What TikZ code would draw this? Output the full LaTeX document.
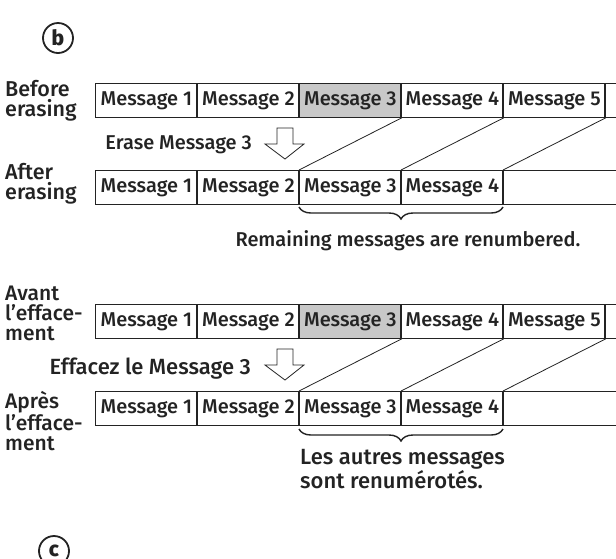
\documentclass[tikz,border=0pt]{standalone}
\usepackage{fontspec}
\setmainfont{Fira Sans}[UprightFont={* Medium}]
\usetikzlibrary{decorations.pathreplacing}
\definecolor{shade}{RGB}{200,200,200}
\definecolor{ink}{RGB}{35,35,35}
\begin{document}
\begin{tikzpicture}[x=1pt,y=-1pt,
  cell/.style={draw=ink,line width=0.8pt,minimum width=102pt,minimum height=34pt,inner sep=0pt,anchor=north west,font=\fontsize{20}{22}\selectfont,text=ink},
  grey/.style={cell,fill=shade},
  lbl/.style={anchor=west,align=left,font=\fontsize{21.5}{20}\selectfont,text=ink,inner sep=0pt},
  lblfr/.style={lbl,font=\fontsize{21}{20}\selectfont},
  txt/.style={font=\fontsize{20}{21}\selectfont,text=ink,inner sep=0pt},
  txtfr/.style={font=\fontsize{22}{21}\selectfont,text=ink,inner sep=0pt},
  hollow/.style={draw=ink,line width=0.8pt,fill=white},
  slant/.style={draw=ink,line width=0.8pt},
  brc/.style={draw=ink,line width=1.4pt,decorate,decoration={brace,mirror,amplitude=12pt}},
  circ/.style={circle,draw=ink,line width=1.8pt,minimum size=30pt,inner sep=0pt,font=\fontsize{21}{21}\selectfont\bfseries,text=ink}
]
\useasboundingbox (0,0) rectangle (616,558);
\fill[white] (0,0) rectangle (616,558);

\node[circ] (cb) at (58,38) {b};
\node[circ] (cc) at (54,551) {c};

% ---- top section ----
\node[lbl] (l1) at (5,101) {Before\\erasing};
\node[lbl] (l2) at (5,184) {After\\erasing};

\draw[ink,line width=0.8pt] (95,83) -- (616,83) (95,117) -- (616,117);
\draw[ink,line width=0.8pt] (95,170) -- (616,170) (95,204) -- (616,204);

\node[cell] (a1) at (95,83) {Message 1};
\node[cell] (a2) at (197,83) {Message 2};
\node[grey] (a3) at (299,83) {Message 3};
\node[cell] (a4) at (401,83) {Message 4};
\node[cell] (a5) at (503,83) {Message 5};

\node[cell] (b1) at (95,170) {Message 1};
\node[cell] (b2) at (197,170) {Message 2};
\node[cell] (b3) at (299,170) {Message 3};
\node[cell] (b4) at (401,170) {Message 4};
\coordinate (b5) at (503,170);

\draw[slant] (a3.south east) -- (b3.north west);
\draw[slant] (a4.south east) -- (b4.north west);
\draw[slant] (a5.south east) -- (b5);

\foreach \x in {197,299,401,503}{\draw[ink,line width=1.3pt] (\x,83) -- (\x,117) (\x,170) -- (\x,204);}
\draw[ink,line width=1.3pt] (605,83) -- (605,117);

\node[txt,anchor=east] (e1) at (252,145) {Erase Message 3};
\draw[hollow] (277,128) -- (293,128) -- (293,144) -- (304,144) -- (285,159) -- (265,144) -- (277,144) -- cycle;

\coordinate (br1s) at (299,207);
\coordinate (br1e) at (503,207);
\draw[brc] (br1s) -- (br1e);
\node[txt] (r1) at (408,241) {Remaining messages are renumbered.};

% ---- bottom section ----
\node[lblfr] (l3) at (5,313) {Avant\\l’efface-\\ment};
\node[lblfr] (l4) at (5,421) {Après\\l’efface-\\ment};

\draw[ink,line width=0.8pt] (95,304) -- (616,304) (95,338) -- (616,338);
\draw[ink,line width=0.8pt] (95,391) -- (616,391) (95,425) -- (616,425);

\node[cell] (c1) at (95,304) {Message 1};
\node[cell] (c2) at (197,304) {Message 2};
\node[grey] (c3) at (299,304) {Message 3};
\node[cell] (c4) at (401,304) {Message 4};
\node[cell] (c5) at (503,304) {Message 5};

\node[cell] (d1) at (95,391) {Message 1};
\node[cell] (d2) at (197,391) {Message 2};
\node[cell] (d3) at (299,391) {Message 3};
\node[cell] (d4) at (401,391) {Message 4};
\coordinate (d5) at (503,391);

\draw[slant] (c3.south east) -- (d3.north west);
\draw[slant] (c4.south east) -- (d4.north west);
\draw[slant] (c5.south east) -- (d5);

\foreach \x in {197,299,401,503}{\draw[ink,line width=1.3pt] (\x,304) -- (\x,338) (\x,391) -- (\x,425);}
\draw[ink,line width=1.3pt] (605,304) -- (605,338);

\node[txtfr,anchor=east] (e2) at (251,369) {Effacez le Message 3};
\draw[hollow] (277,349) -- (293,349) -- (293,365) -- (304,365) -- (285,380) -- (265,365) -- (277,365) -- cycle;

\coordinate (br2s) at (299,429);
\coordinate (br2e) at (503,429);
\draw[brc] (br2s) -- (br2e);
\node[txtfr,anchor=west,align=left] (r2) at (300,469) {Les autres messages\\sont renumérotés.};
\end{tikzpicture}
\end{document}
